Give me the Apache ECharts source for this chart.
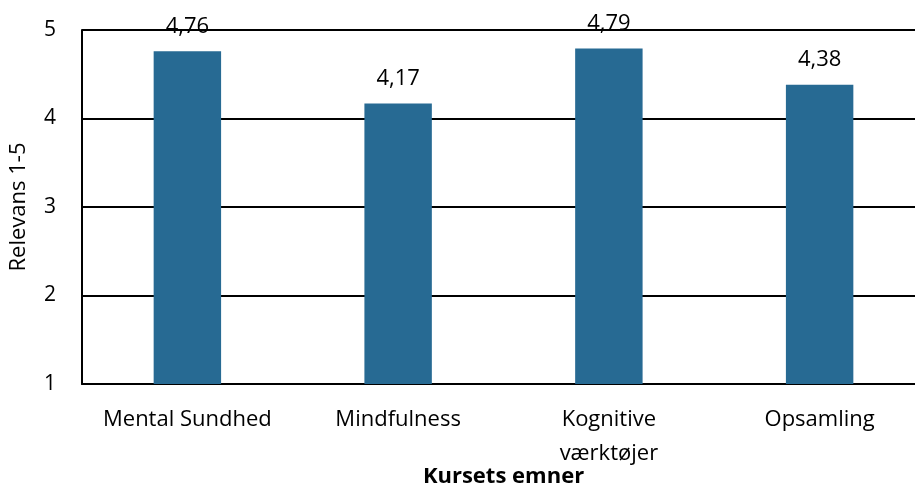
<!DOCTYPE html>
<html>
<head>
<meta charset="utf-8">
<script src="https://cdn.jsdelivr.net/npm/echarts@6/dist/echarts.min.js"></script>
<style>
html,body{margin:0;padding:0;background:#fff;}
#c{width:915px;height:492px;}
</style>
</head>
<body>
<div id="c"></div>
<script>
const categories = ['Mental Sundhed', 'Mindfulness', 'Kognitive\nværktøjer', 'Opsamling'];
const values = [4.76, 4.17, 4.79, 4.38];
const yTicks = [1, 2, 3, 4, 5];

const chart = echarts.init(document.getElementById('c'));
const FONT = '"Open Sans", "Noto Sans", sans-serif';
chart.setOption({
  animation: false,
  grid: { left: 82, right: -10, top: 30, bottom: 108, containLabel: false, outerBoundsMode: 'none' },
  xAxis: {
    type: 'category',
    data: categories,
    name: 'Kursets emner',
    nameLocation: 'middle',
    nameGap: 82,
    nameMoveOverlap: false,
    nameTextStyle: { fontFamily: FONT, fontSize: 22, fontWeight: 'bold', color: '#000' },
    axisLine: { show: true, lineStyle: { color: '#000', width: 2 } },
    axisTick: { show: false },
    axisLabel: { fontFamily: FONT, fontSize: 22, color: '#000', margin: 19, lineHeight: 34, interval: 0 }
  },
  yAxis: {
    type: 'value',
    min: yTicks[0],
    max: yTicks[yTicks.length - 1],
    interval: 1,
    name: 'Relevans 1-5',
    nameLocation: 'middle',
    nameGap: 52,
    nameMoveOverlap: false,
    nameTextStyle: { fontFamily: FONT, fontSize: 22, color: '#000' },
    axisLine: { show: true, lineStyle: { color: '#000', width: 2 } },
    axisTick: { show: false },
    axisLabel: { fontFamily: FONT, fontSize: 21, color: '#000', margin: 26 },
    splitLine: { show: true, lineStyle: { color: '#000', width: 2 } }
  },
  series: [{
    type: 'bar',
    data: values,
    barWidth: '32%',
    itemStyle: { color: '#276A93' },
    label: {
      show: true,
      position: 'top',
      distance: 14,
      fontFamily: FONT,
      fontSize: 22,
      color: '#000',
      formatter: p => p.value.toFixed(2).replace('.', ',')
    }
  }]
});
</script>
</body>
</html>
